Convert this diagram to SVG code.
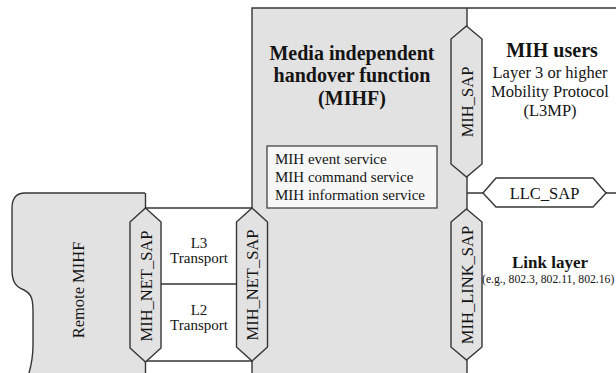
<svg xmlns="http://www.w3.org/2000/svg" width="616" height="373" viewBox="0 0 616 373" font-family="'Liberation Serif', 'Times New Roman', Times, serif">
  <style>
    .ln { fill: none; stroke: #363636; stroke-width: 1.4; }
    .area { fill: #e2e2e2; stroke: none; }
    .hex { fill: #e2e2e2; stroke: #363636; stroke-width: 1.4; }
    .hexw { fill: #ffffff; stroke: #363636; stroke-width: 1.4; }
    text { font-family: 'Liberation Serif', 'Times New Roman', Times, serif; fill: #141414; }
    .b { font-weight: bold; }
    .sap { font-size: 16.5px; text-anchor: middle; dominant-baseline: central; }
  </style>
  <rect width="616" height="373" fill="#ffffff"/>

  <!-- Remote MIHF -->
  <g id="remote-mihf">
    <path class="area" d="M145,193 L25,193 Q12,193 12,208 L12,270 C12,282 16,287 24,290 C32,294 33,300 33,312 L33,345 C33,358 31,366 29,373 L145,373 Z"/>
    <path class="ln" d="M145,193 L25,193 Q12,193 12,208 L12,270 C12,282 16,287 24,290 C32,294 33,300 33,312 L33,345 C33,358 31,366 29,373"/>
    <line class="ln" x1="145.5" y1="193" x2="145.5" y2="373"/>
    <text font-size="16.5" text-anchor="middle" dominant-baseline="central" transform="translate(78,290) rotate(-90)">Remote MIHF</text>
  </g>

  <!-- MIHF -->
  <g id="mihf">
    <rect class="area" x="252" y="8" width="215" height="365"/>
    <path class="ln" d="M252,373 L252,8 L616,8 M467,8 L467,373"/>
    <text class="b" font-size="20" text-anchor="middle" x="352" y="60">Media independent</text>
    <text class="b" font-size="20" text-anchor="middle" x="352" y="82">handover function</text>
    <text class="b" font-size="20" text-anchor="middle" x="352" y="105">(MIHF)</text>
  </g>

  <g id="mih-services">
    <rect x="267" y="146" width="170" height="62" fill="#f7f7f7" stroke="#363636" stroke-width="1.2"/>
    <text font-size="15" x="275" y="164">MIH event service</text>
    <text font-size="15" x="275" y="182">MIH command service</text>
    <text font-size="15" x="275" y="200">MIH information service</text>
  </g>

  <!-- Transport between peers -->
  <g id="transport">
    <path class="ln" d="M145,208 L252,208 M145,284 L252,284 M145,361 L252,361"/>
    <text font-size="15" text-anchor="middle" x="199" y="248">L3</text>
    <text font-size="15" text-anchor="middle" x="199" y="263">Transport</text>
    <text font-size="15" text-anchor="middle" x="199" y="315">L2</text>
    <text font-size="15" text-anchor="middle" x="199" y="330">Transport</text>
  </g>

  <g id="mih-users">
    <text class="b" font-size="20" text-anchor="middle" x="552" y="57">MIH users</text>
    <text font-size="16.5" text-anchor="middle" x="550" y="78">Layer 3 or higher</text>
    <text font-size="16.5" text-anchor="middle" x="550" y="97">Mobility Protocol</text>
    <text font-size="16.5" text-anchor="middle" x="550" y="116">(L3MP)</text>
  </g>

  <g id="link-layer">
    <text class="b" font-size="17" text-anchor="middle" x="550" y="268">Link layer</text>
    <text font-size="11.7" x="482" y="283">(e.g., 802.3, 802.11, 802.16)</text>
  </g>

  <!-- connectors -->
  <g id="connectors">
    <path class="ln" d="M467,193 L483,193 M606,193 L616,193"/>
  </g>

  <!-- service access points -->
  <g id="mih-sap">
    <polygon class="hex" points="466.5,26 482,39 482,164 466.5,177 451,164 451,39"/>
    <text class="sap" transform="translate(467,102) rotate(-90)">MIH_SAP</text>
  </g>
  <g id="llc-sap">
    <polygon class="hexw" points="483,193 496,178 593,178 606,193 593,207 496,207"/>
    <text font-size="16.5" text-anchor="middle" x="544.5" y="199">LLC_SAP</text>
  </g>
  <g id="mih-link-sap">
    <polygon class="hex" points="466.5,209 482,222 482,347 466.5,360 451,347 451,222"/>
    <text class="sap" transform="translate(467,285) rotate(-90)">MIH_LINK_SAP</text>
  </g>
  <g id="mih-net-sap-remote">
    <polygon class="hex" points="145.5,208 161,222 161,348 145.5,362 130,348 130,222"/>
    <text class="sap" transform="translate(146,286) rotate(-90)">MIH_NET_SAP</text>
  </g>
  <g id="mih-net-sap-local">
    <polygon class="hex" points="252,208 267.5,222 267.5,347 252,361 236.5,347 236.5,222"/>
    <text class="sap" transform="translate(252.5,285) rotate(-90)">MIH_NET_SAP</text>
  </g>
</svg>
